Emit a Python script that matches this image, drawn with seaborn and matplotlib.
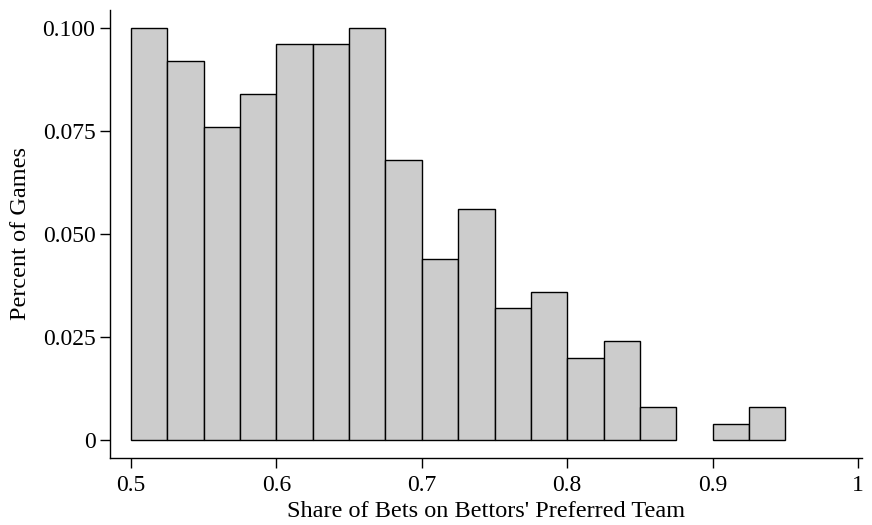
import matplotlib
matplotlib.use("Agg")
import matplotlib.pyplot as plt
import seaborn as sns
import numpy as np
import pandas as pd

# Bin left edges (width 0.025) and share of games in each bin
bin_left = [0.500, 0.525, 0.550, 0.575, 0.600, 0.625, 0.650, 0.675, 0.700,
            0.725, 0.750, 0.775, 0.800, 0.825, 0.850, 0.875, 0.900, 0.925]
share = [0.100, 0.092, 0.076, 0.084, 0.096, 0.096, 0.100, 0.068, 0.044,
         0.056, 0.032, 0.036, 0.020, 0.024, 0.008, 0.000, 0.004, 0.008]
bin_width = 0.025
x_ticks = [0.5, 0.6, 0.7, 0.8, 0.9, 1.0]
x_tick_labels = ["0.5", "0.6", "0.7", "0.8", "0.9", "1"]
y_ticks = [0, 0.025, 0.05, 0.075, 0.1]
y_tick_labels = ["0", "0.025", "0.050", "0.075", "0.100"]

df = pd.DataFrame({"x": np.array(bin_left) + bin_width / 2, "w": share})
edges = list(bin_left) + [bin_left[-1] + bin_width]

sns.set_theme(style="ticks")
plt.rcParams["font.family"] = ["Liberation Serif", "DejaVu Serif"]

fig = plt.figure(figsize=(8.72, 5.25), dpi=100)
ax = fig.add_axes([110 / 872, 1 - 458 / 525, (862 - 110) / 872, (458 - 10) / 525])

sns.histplot(data=df, x="x", weights="w", bins=edges, stat="count",
             color="#cccccc", edgecolor="black", linewidth=1.0, alpha=1,
             ax=ax)
# hide empty bins (no outline drawn in the reference)
for p in ax.patches:
    if p.get_height() == 0:
        p.set_visible(False)

ax.set_xlim(0.5 - 21 / 1454, 1 + 4 / 1454)
ax.set_ylim(-18 / 4120, 0.1 + 18 / 4120)
ax.set_xticks(x_ticks)
ax.set_xticklabels(x_tick_labels)
ax.set_yticks(y_ticks)
ax.set_yticklabels(y_tick_labels)
ax.tick_params(axis="both", direction="out", length=7.5, width=1, color="black",
               labelsize=17, labelcolor="black", pad=3)
ax.tick_params(axis="x", pad=5)
for s in ["top", "right"]:
    ax.spines[s].set_visible(False)
for s in ["left", "bottom"]:
    ax.spines[s].set_color("black")
    ax.spines[s].set_linewidth(1)

ax.set_xlabel("Share of Bets on Bettors' Preferred Team", fontsize=17.5, color="black", labelpad=3)
ax.set_ylabel("Percent of Games", fontsize=17.5, color="black", labelpad=8.5)

fig.savefig("out.png", dpi=100)
